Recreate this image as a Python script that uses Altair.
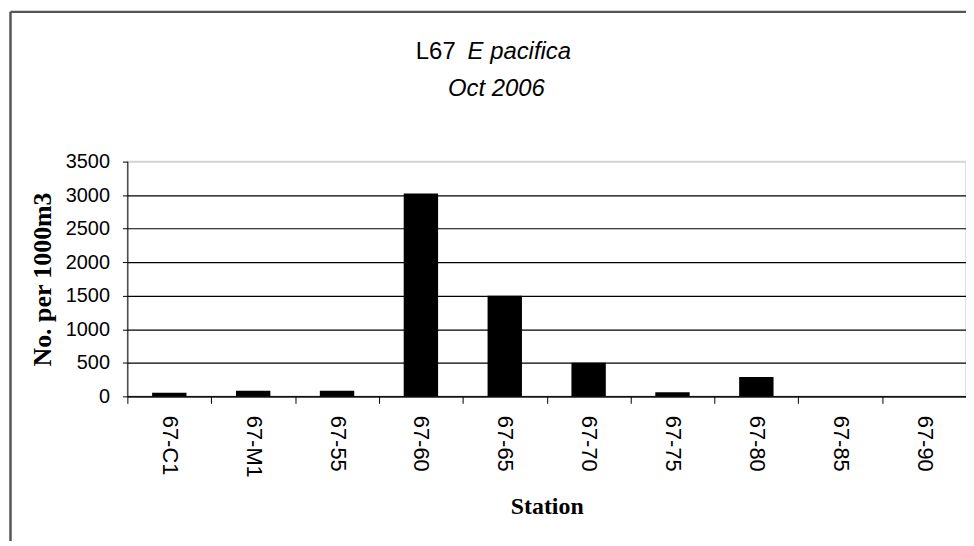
import altair as alt
import pandas as pd

stations = ["67-C1", "67-M1", "67-55", "67-60", "67-65", "67-70", "67-75", "67-80", "67-85", "67-90"]
values = [55, 85, 85, 3025, 1500, 500, 60, 287, 0, 0]
y_ticks = [0, 500, 1000, 1500, 2000, 2500, 3000, 3500]

title_main = "L67"
title_species = "E pacifica"
title_date = "Oct 2006"
x_title = "Station"
y_title = "No. per 1000m3"

SANS = "Liberation Sans, Arial, sans-serif"
SERIF = "Liberation Serif, Times New Roman, serif"

W, H = 843, 236

df = pd.DataFrame({"station": stations, "value": values})

bars = alt.Chart(df).mark_bar(color="black", width={"band": 0.41}).encode(
    x=alt.X(
        "station:N",
        sort=stations,
        scale=alt.Scale(paddingInner=0, paddingOuter=0),
        axis=alt.Axis(
            title=x_title,
            titleFont=SERIF,
            titleFontSize=24,
            titleFontWeight="bold",
            titleColor="black",
            titleY=111,
            titleBaseline="middle",
            labelAngle=90,
            labelFont=SANS,
            labelFontSize=22,
            labelColor="black",
            labelPadding=12,
            labelAlign="left",
            labelBaseline="middle",
            tickBand="extent",
            tickSize=7,
            tickColor="black",
            domainColor="black",
            grid=False,
        ),
    ),
    y=alt.Y(
        "value:Q",
        scale=alt.Scale(domain=[0, 3500], nice=False),
        axis=alt.Axis(
            values=y_ticks,
            format="d",
            title=y_title,
            titleFont=SERIF,
            titleFontSize=26,
            titleFontWeight="bold",
            titleColor="black",
            titleAngle=270,
            titleX=-85,
            titleY=H / 2,
            titleBaseline="middle",
            titleAlign="center",
            labelFont=SANS,
            labelFontSize=20,
            labelColor="black",
            labelPadding=13,
            tickSize=5,
            tickColor="black",
            domainColor="black",
            grid=True,
            gridColor={"condition": {"test": "datum.value >= 3500", "value": "#d4d4d4"}, "value": "black"},
            gridWidth=1.2,
        ),
    ),
)

tdf1 = pd.DataFrame({"t": [title_main]})
tdf2 = pd.DataFrame({"t": [title_species]})
tdf3 = pd.DataFrame({"t": [title_date]})

t1 = alt.Chart(tdf1).mark_text(font=SANS, fontSize=24, align="right", baseline="alphabetic", color="black").encode(
    text="t:N", x=alt.value(330), y=alt.value(-103)
)
t2 = alt.Chart(tdf2).mark_text(font=SANS, fontSize=24, fontStyle="italic", align="left", baseline="alphabetic", color="black").encode(
    text="t:N", x=alt.value(342), y=alt.value(-103)
)
t3 = alt.Chart(tdf3).mark_text(font=SANS, fontSize=24, fontStyle="italic", align="center", baseline="alphabetic", color="black").encode(
    text="t:N", x=alt.value(371), y=alt.value(-66)
)

frame_left = alt.Chart(tdf1).mark_rule(color="#555555", strokeWidth=2.5).encode(
    x=alt.value(-117.5), y=alt.value(-150.5), y2=alt.value(600)
)
frame_top = alt.Chart(tdf1).mark_rule(color="#555555", strokeWidth=2.5).encode(
    x=alt.value(-117.5), x2=alt.value(1000), y=alt.value(-150.5)
)

chart = alt.layer(bars, t1, t2, t3, frame_left, frame_top).properties(
    width=W,
    height=H,
    padding={"left": 120, "top": 153, "right": 0, "bottom": 144},
    autosize=alt.AutoSizeParams(type="none"),
    background="white",
).configure_view(stroke="#d4d4d4", strokeWidth=1.5)

chart.save("out.html", embed_options={"renderer": "svg", "actions": False})
